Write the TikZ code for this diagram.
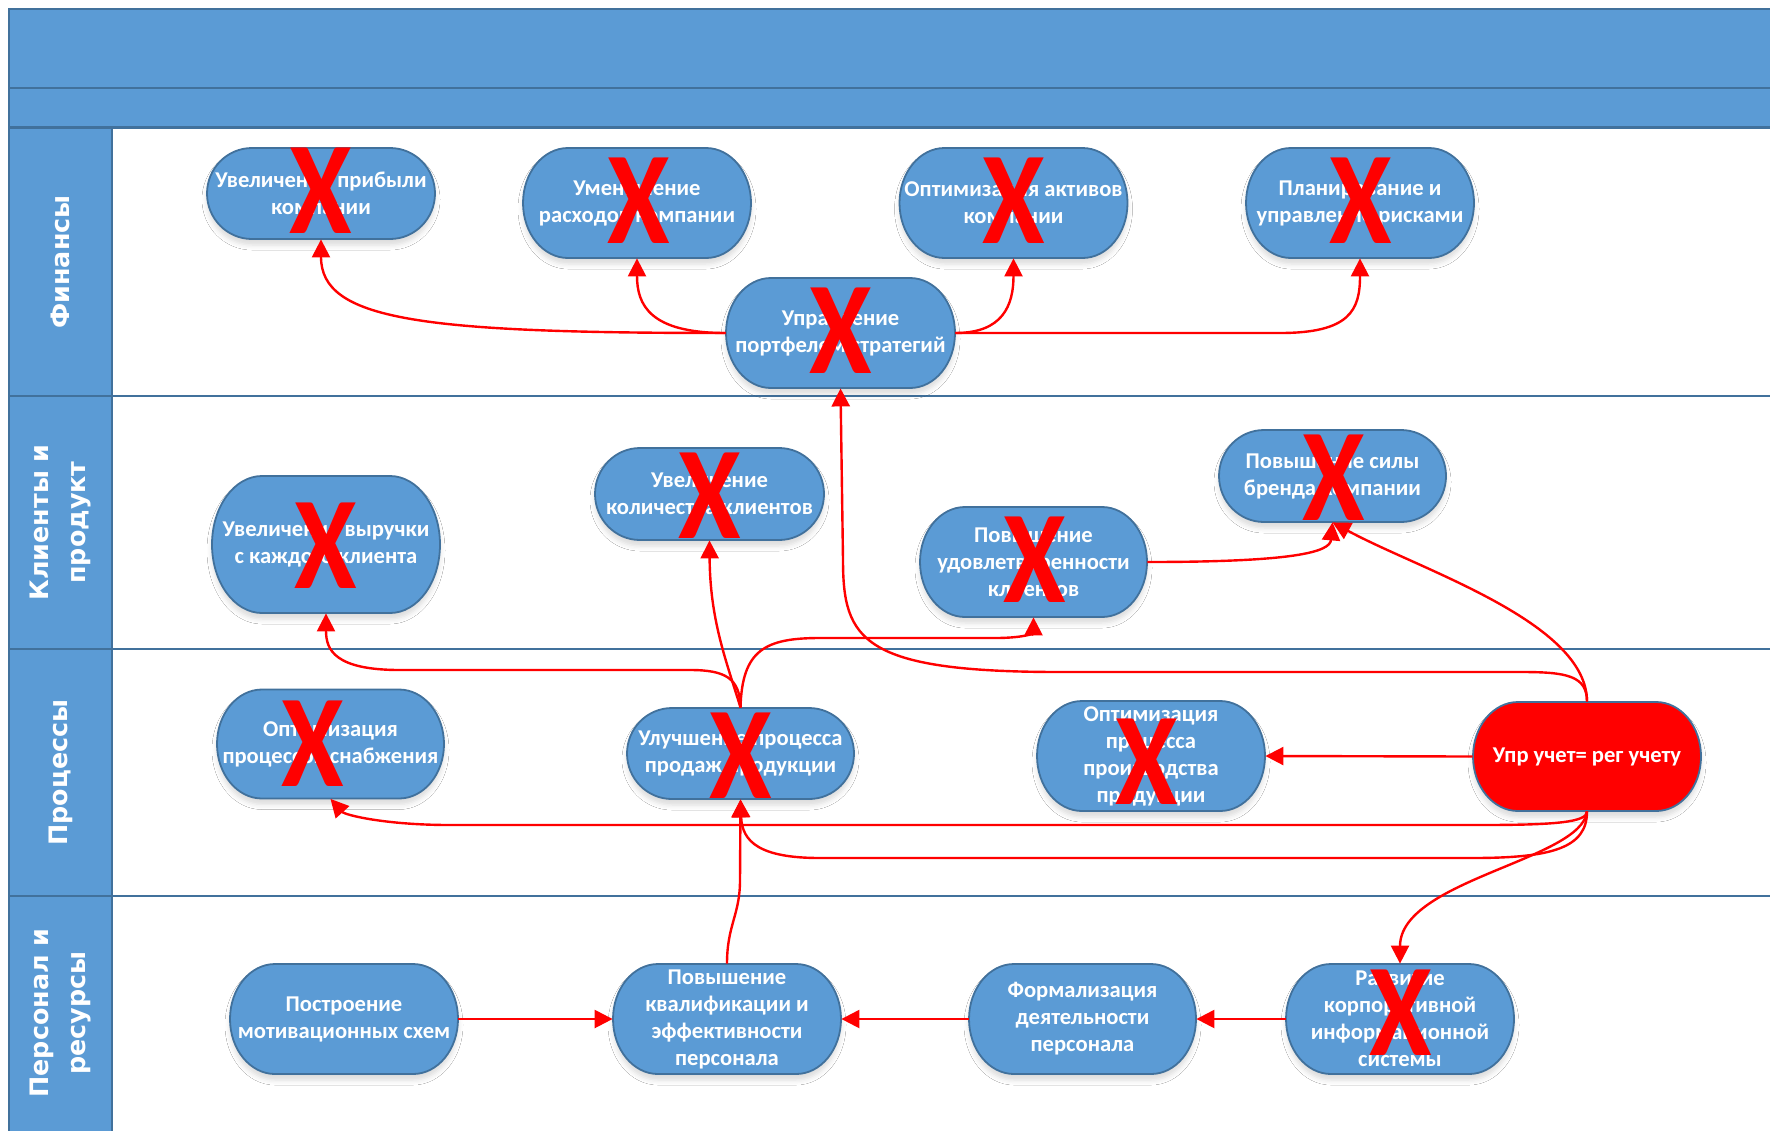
\documentclass[tikz,border=0pt]{standalone}
\usepackage{fontspec}
\usepackage{graphicx}
\setmainfont{Carlito}
\newfontfamily\lanefont{DejaVu Sans}
\usetikzlibrary{arrows.meta,shadows.blur}
\definecolor{bfill}{HTML}{5B9BD5}
\definecolor{bline}{HTML}{41719C}
\tikzset{
 laneline/.style={draw=bline, line width=1.2pt},
 lanehead/.style={laneline, fill=bfill},
 shapebox/.style={fill=bfill, draw=bline, line width=0.9pt, blur shadow={shadow xshift=0pt, shadow yshift=-3pt, shadow opacity=14, shadow blur radius=2.5pt}},
 redbox/.style={shapebox, fill=red},
 ntext/.style={text=white, font=\bfseries\fontsize{11.3pt}{13.5pt}\selectfont, align=center, inner sep=0pt, shape=rectangle},
 lanelbl/.style={text=white, font=\lanefont\bfseries\fontsize{12.7pt}{18.5pt}\selectfont, align=center, rotate=90, inner sep=0pt},
 xmark/.style={text=red, font=\bfseries\fontsize{66pt}{66pt}\selectfont, inner sep=0pt},
 conn/.style={draw=red, line width=1.2pt, -{Triangle[length=9pt,width=9pt]}},
}
\newcommand\xglyph{\scalebox{0.86}[1]{X}}
\def\bulge{45}
% #1 name, #2 cx, #3 cy, #4 w, #5 h, #6 style, #7 text
\newcommand\mkblob[7]{%
  \pgfmathsetmacro\bL{#2-#4/2}\pgfmathsetmacro\bR{#2+#4/2}%
  \pgfmathsetmacro\bT{#3-#5/2}\pgfmathsetmacro\bB{#3+#5/2}%
  \pgfmathsetmacro\bLi{\bL+\bulge}\pgfmathsetmacro\bRi{\bR-\bulge}%
  \pgfmathsetmacro\bk{\bulge*0.5523}\pgfmathsetmacro\bh{#5/2*0.5523}%
  \path[#6] (\bLi,\bT) -- (\bRi,\bT)
    .. controls ({\bRi+\bk},\bT) and (\bR,{#3-\bh}) .. (\bR,#3)
    .. controls (\bR,{#3+\bh}) and ({\bRi+\bk},\bB) .. (\bRi,\bB)
    -- (\bLi,\bB)
    .. controls ({\bLi-\bk},\bB) and (\bL,{#3+\bh}) .. (\bL,#3)
    .. controls (\bL,{#3-\bh}) and ({\bLi-\bk},\bT) .. (\bLi,\bT) -- cycle;
  \node[ntext, minimum width={#4*0.5pt}, minimum height={#5*0.5pt}] (#1) at (#2,#3) {#7};
}
\begin{document}
\begin{tikzpicture}[x=0.5pt,y=-0.5pt]
\useasboundingbox (0,0) rectangle (1770,1130);
\clip (0,0) rectangle (1770,1130);
\fill[white] (0,0) rectangle (1770,1130);
% title bands
\draw[lanehead] (9,9) rectangle (1800,88);
\draw[lanehead] (9,88) rectangle (1800,127.5);
% lanes
\draw[laneline] (9,127.5) rectangle (1800,396);
\draw[laneline] (9,396) rectangle (1800,649);
\draw[laneline] (9,649) rectangle (1800,896);
\draw[laneline] (9,896) rectangle (1800,1160);
\draw[lanehead] (9,127.5) rectangle (112,396);
\draw[lanehead] (9,396) rectangle (112,649);
\draw[lanehead] (9,649) rectangle (112,896);
\draw[lanehead] (9,896) rectangle (112,1160);
\node[lanelbl] (l1) at (60.5,262) {Финансы};
\node[lanelbl] (l2) at (60.5,522.5) {Клиенты и\\продукт};
\node[lanelbl] (l3) at (60.5,772.5) {Процессы};
\node[lanelbl] (l4) at (60.5,1013) {Персонал и\\ресурсы};
% nodes
\mkblob{n1}{321}{193.5}{228}{91}{shapebox}{Увеличение прибыли\\компании}
\mkblob{n2}{637}{203}{228}{110}{shapebox}{Уменьшение\\расходов компании}
\mkblob{n3}{1013.5}{203}{228}{110}{shapebox}{Оптимизация активов\\компании}
\mkblob{n4}{1360}{203}{228}{110}{shapebox}{Планирование и\\управление рисками}
\mkblob{n5}{840.5}{333}{229}{110}{shapebox}{Управление\\портфелем стратегий}
\def\bulge{50}
\mkblob{n6}{326}{544.5}{228}{137}{shapebox}{Увеличение выручки\\с каждого клиента}
\def\bulge{45}
\mkblob{n7}{709.5}{494}{229}{92}{shapebox}{Увеличение\\количества клиентов}
\mkblob{n8}{1033.5}{562}{227}{110}{shapebox}{Повышение\\удовлетворенности\\клиентов}
\mkblob{n9}{1332.5}{476}{227}{92}{shapebox}{Повышение силы\\бренда компании}
\mkblob{n10}{330.5}{744}{227}{109}{shapebox}{Оптимизация\\процессов снабжения}
\mkblob{n11}{740.5}{753.5}{227}{91}{shapebox}{Улучшение процесса\\продаж продукции}
\mkblob{n12}{1151}{756}{228}{110}{shapebox}{Оптимизация\\процесса\\производства\\продукции}
\mkblob{n13}{1587}{756.5}{228}{109}{redbox}{Упр учет= рег учету}
\mkblob{n14}{344}{1019}{228}{110}{shapebox}{Построение\\мотивационных схем}
\mkblob{n15}{727}{1019}{228}{110}{shapebox}{Повышение\\квалификации и\\эффективности\\персонала}
\mkblob{n16}{1082.5}{1019}{227}{110}{shapebox}{Формализация\\деятельности\\персонала}
\mkblob{n17}{1400}{1019}{228}{110}{shapebox}{Развитие\\корпоративной\\информационной\\системы}
% connectors
\draw[conn] (n5.west) .. controls (420,333) and (321,320) .. (n1.south);
\draw[conn] (n5.west) .. controls (650,333) and (637,305) .. (n2.south);
\draw[conn] (n5.east) .. controls (1003,333) and (1013.5,305) .. (n3.south);
\draw[conn] (n5.east) -- (1280,333) .. controls (1350,333) and (1360,310) .. (n4.south);
\draw[conn] (n13.north) .. controls (1587,676) and (1567,672) .. (1522,672) -- (1060,672) .. controls (862,672) and (843,640) .. (843,560) -- (n5.south);
\draw[conn] (n13.north) .. controls (1587,622) and (1420,570) .. (n9.south);
\draw[conn] (n8.east) .. controls (1295,562) and (1330,552) .. (n9.south);
\draw[conn] (n11.north) .. controls (740,678) and (725,670) .. (690,670) -- (400,670) .. controls (335,670) and (326,650) .. (n6.south);
\draw[conn] (n11.north) .. controls (726,660) and (710,620) .. (n7.south);
\draw[conn] (n11.north) .. controls (742,650) and (765,638) .. (820,638) -- (995,638) .. controls (1028,638) and (1033.5,632) .. (n8.south);
\draw[conn] (n13.west) -- (n12.east);
\draw[conn] (n13.south) .. controls (1587,822) and (1557,825) .. (1482,825) -- (450,825) .. controls (385,825) and (345,815) .. (n10.south);
\draw[conn] (n13.south) .. controls (1587,848) and (1552,858) .. (1472,858) -- (820,858) .. controls (760,858) and (742,842) .. (n11.south);
\draw[conn] (n13.south) .. controls (1582,860) and (1400,880) .. (n17.north);
\draw[conn] (n14.east) -- (n15.west);
\draw[conn] (n16.west) -- (n15.east);
\draw[conn] (n17.west) -- (n16.east);
\draw[conn] (n15.north) .. controls (727,925) and (740,915) .. (740,880) -- (n11.south);
% crosses
\node[xmark] (x1) at (321,191) {\xglyph};
\node[xmark] (x2) at (639,201) {\xglyph};
\node[xmark] (x3) at (1014,201) {\xglyph};
\node[xmark] (x4) at (1361,201) {\xglyph};
\node[xmark] (x5) at (841,331) {\xglyph};
\node[xmark] (x6) at (326,546) {\xglyph};
\node[xmark] (x7) at (710,496) {\xglyph};
\node[xmark] (x8) at (1034.5,560) {\xglyph};
\node[xmark] (x9) at (1333.5,478) {\xglyph};
\node[xmark] (x10) at (313,744) {\xglyph};
\node[xmark] (x11) at (741,756) {\xglyph};
\node[xmark] (x12) at (1147,762) {\xglyph};
\node[xmark] (x17) at (1400.5,1013) {\xglyph};
\end{tikzpicture}
\end{document}
